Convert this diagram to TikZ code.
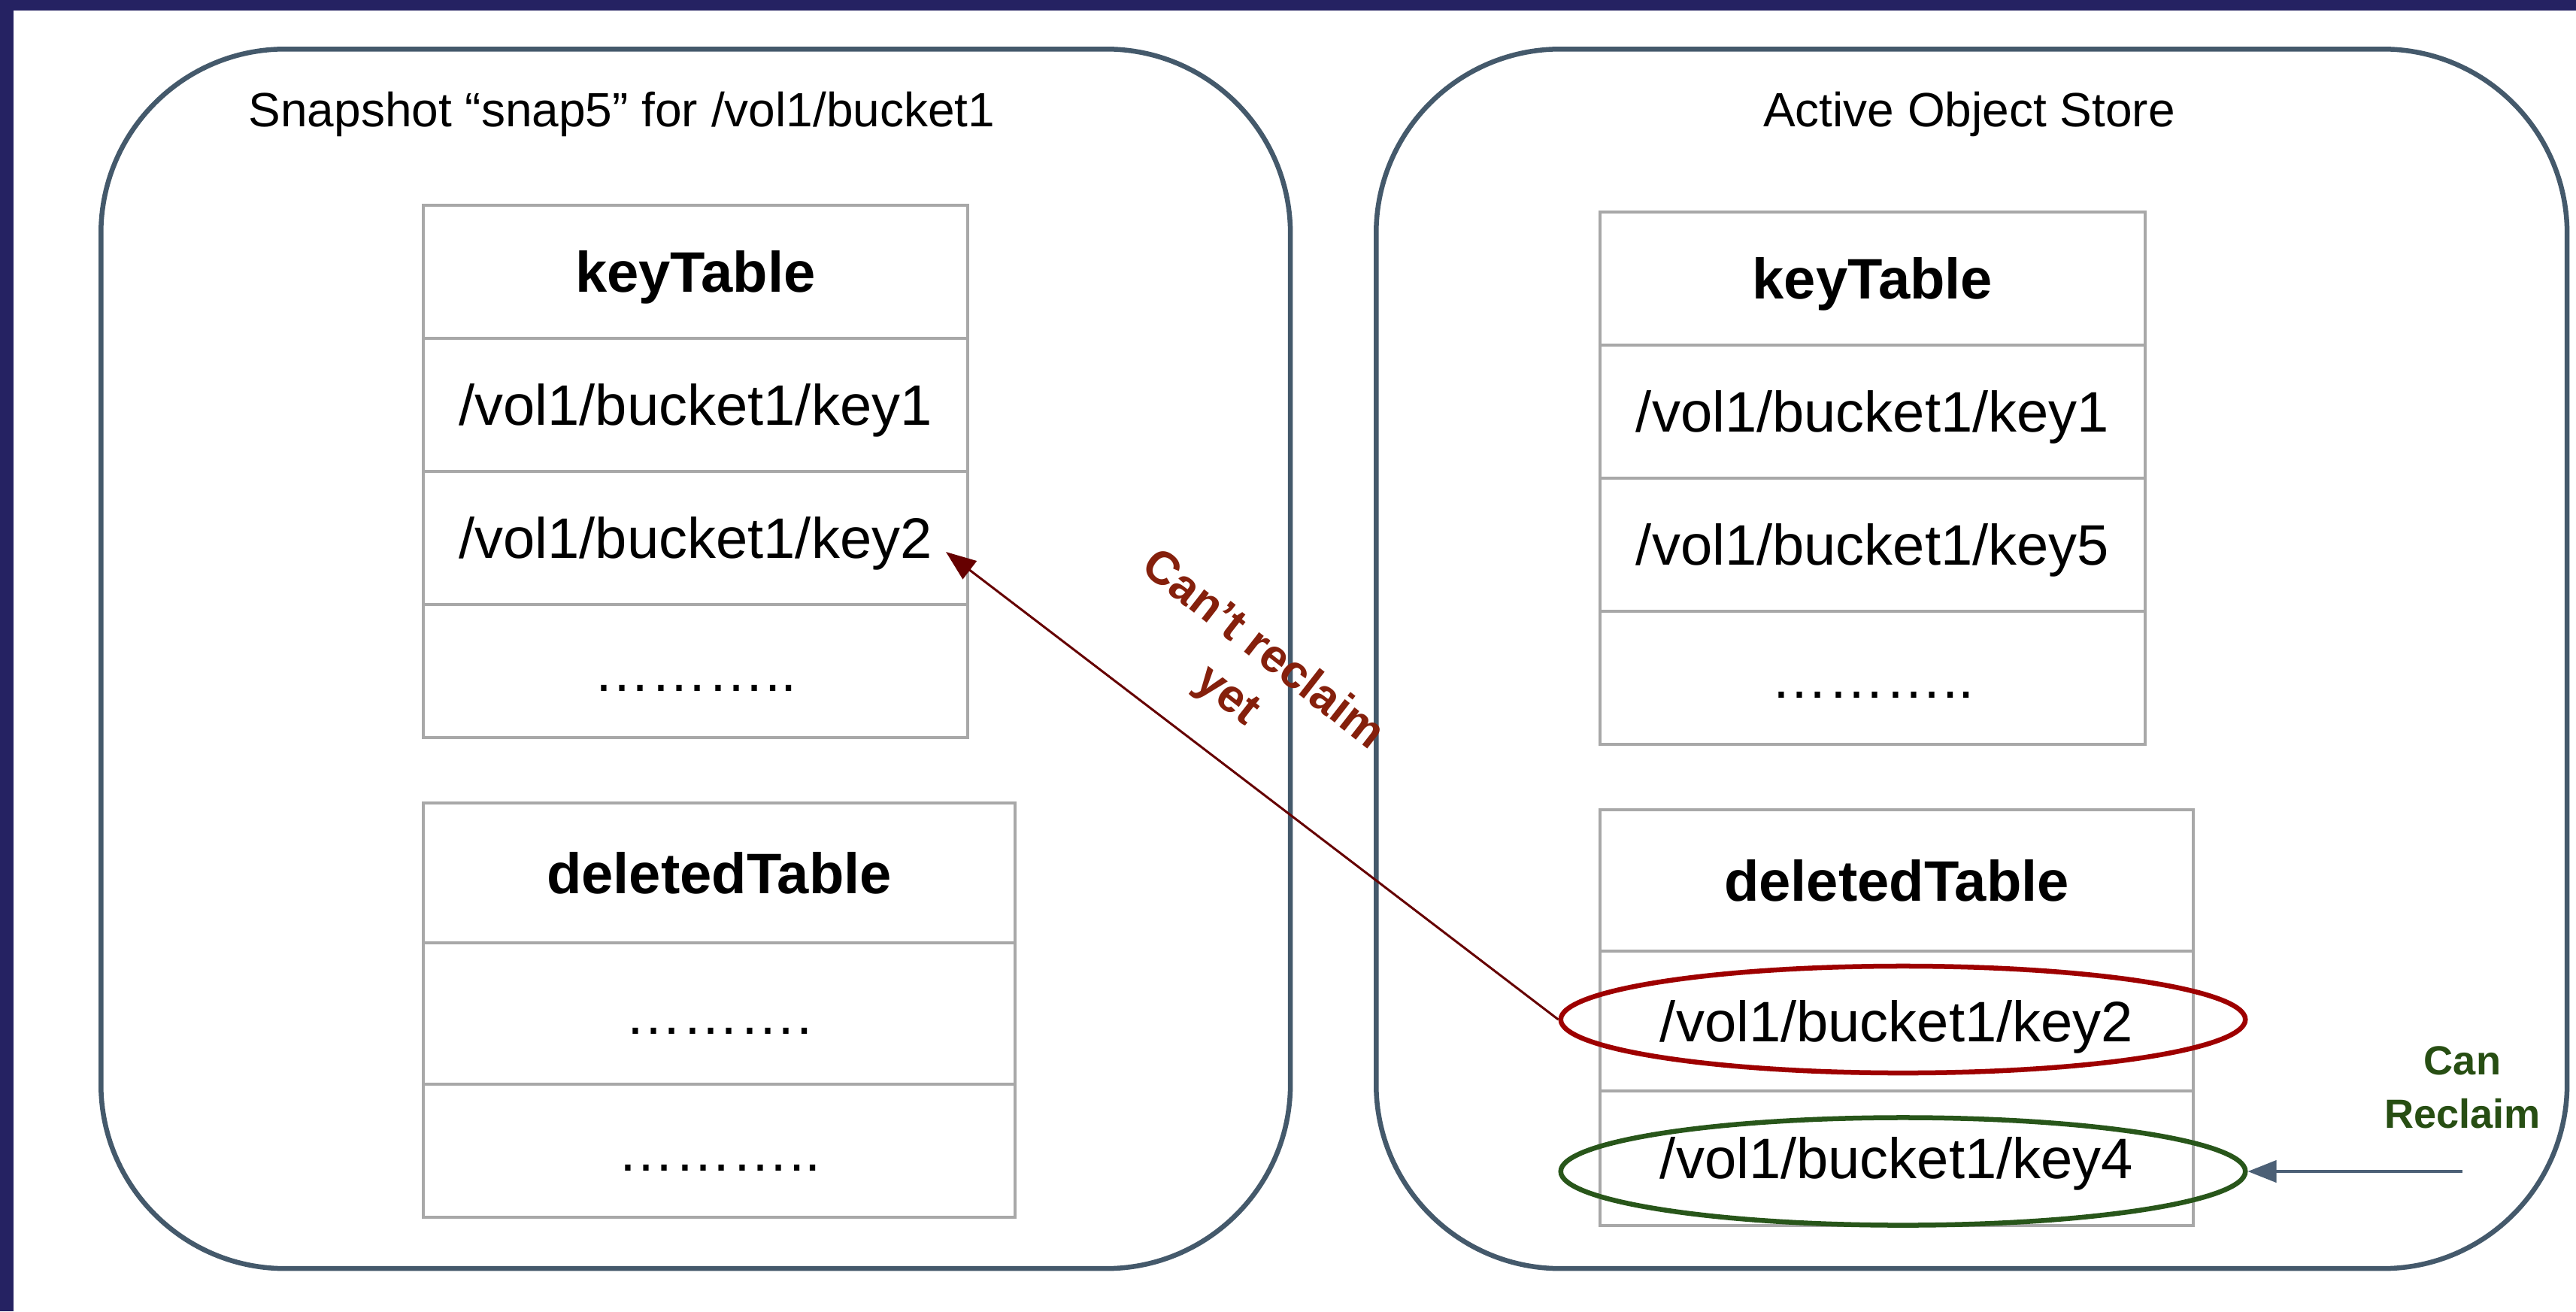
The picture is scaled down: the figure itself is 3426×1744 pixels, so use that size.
\documentclass[tikz,border=0pt]{standalone}
\usepackage{fontspec}
\setmainfont{Liberation Sans}
\usetikzlibrary{arrows.meta,shapes.geometric}

\definecolor{navy}{RGB}{37,34,98}
\definecolor{slate}{RGB}{68,89,107}
\definecolor{cellgray}{RGB}{168,168,168}
\definecolor{keepred}{RGB}{158,0,0}
\definecolor{arrowred}{RGB}{102,0,0}
\definecolor{labelred}{RGB}{133,32,12}
\definecolor{freegreen}{RGB}{39,78,19}
\definecolor{ringgreen}{RGB}{40,86,26}
\definecolor{pointer}{RGB}{76,96,118}

\begin{document}
\begin{tikzpicture}[x=0.01cm,y=-0.01cm,
  bigbox/.style={draw=slate, line width=0.065cm, rounded corners=2.45cm,
    anchor=north west, inner sep=0pt, minimum height=16.21cm},
  title/.style={anchor=base, inner sep=0pt, font=\fontsize{18.2}{22}\selectfont},
  cell/.style={draw=cellgray, line width=0.035cm, anchor=north west, inner sep=0pt,
    text height=0.545cm, text depth=0cm, font=\fontsize{21.6}{26}\selectfont},
  snapkey/.style={cell, minimum width=7.24cm, minimum height=1.77cm},
  snapdel/.style={cell, minimum width=7.87cm},
  livekey/.style={cell, minimum width=7.25cm, minimum height=1.77cm},
  livedel/.style={cell, minimum width=7.89cm},
  ring/.style={ellipse, line width=0.065cm, inner sep=0pt,
    minimum width=9.1cm, minimum height=1.42cm},
]
% page and frame bands
\useasboundingbox (0,0) rectangle (3426,1744);
\fill[white] (0,0) rectangle (3426,1744);
\fill[navy] (0,0) rectangle (3426,14);
\fill[navy] (0,0) rectangle (18,1744);

% the two stores
\node[bigbox, minimum width=15.81cm] (snapbox) at (131,62) {};
\node[bigbox, minimum width=15.83cm] (livebox) at (1827,62) {};
\node[title] (snaptitle) at (827,168) {Snapshot “snap5” for /vol1/bucket1};
\node[title] (livetitle) at (2619,168) {Active Object Store};

% snapshot keyTable
\node[snapkey] (sk0) at (561,271) {\bfseries keyTable};
\node[snapkey] (sk1) at (561,448) {/vol1/bucket1/key1};
\node[snapkey] (sk2) at (561,625) {/vol1/bucket1/key2};
\node[snapkey] (sk3) at (561,802) {………..};

% snapshot deletedTable
\node[snapdel, minimum height=1.86cm] (sd0) at (561,1066) {\bfseries deletedTable};
\node[snapdel, minimum height=1.88cm] (sd1) at (561,1252) {……….};
\node[snapdel, minimum height=1.77cm] (sd2) at (561,1440) {………..};

% active keyTable
\node[livekey] (lk0) at (2126,280) {\bfseries keyTable};
\node[livekey] (lk1) at (2126,457) {/vol1/bucket1/key1};
\node[livekey] (lk2) at (2126,634) {/vol1/bucket1/key5};
\node[livekey] (lk3) at (2126,811) {………..};

% active deletedTable
\node[livedel, minimum height=1.88cm] (ld0) at (2126,1075) {\bfseries deletedTable};
\node[livedel, minimum height=1.86cm] (ld1) at (2126,1263) {/vol1/bucket1/key2};
\node[livedel, minimum height=1.79cm] (ld2) at (2126,1449) {/vol1/bucket1/key4};

% highlighted entries
\node[ring, draw=keepred] (redring) at (2531,1356) {};
\node[ring, draw=ringgreen, minimum height=1.43cm] (greenring) at (2531,1558) {};

% reclaim connectors
\coordinate (k2tip) at (1258,734);
\coordinate (reclaimfrom) at (3275,1558);
\draw[arrowred, line width=0.03cm, -{Triangle[length=0.4cm,width=0.3cm]}]
  (redring.west) -- (k2tip);
\draw[pointer, line width=0.04cm, -{Triangle[length=0.38cm,width=0.29cm]}]
  (reclaimfrom) -- (greenring.east);

% labels
\node[rotate=-38, align=center, text=labelred, inner sep=0pt,
  font=\bfseries\fontsize{17.6}{21.9}\selectfont] (cantlabel) at (1655,896)
  {Can’t reclaim\\yet};
\node[align=center, text=freegreen, inner sep=0pt,
  font=\bfseries\fontsize{15.4}{20.2}\selectfont] (canlabel) at (3275,1446)
  {Can\\Reclaim};
\end{tikzpicture}
\end{document}
